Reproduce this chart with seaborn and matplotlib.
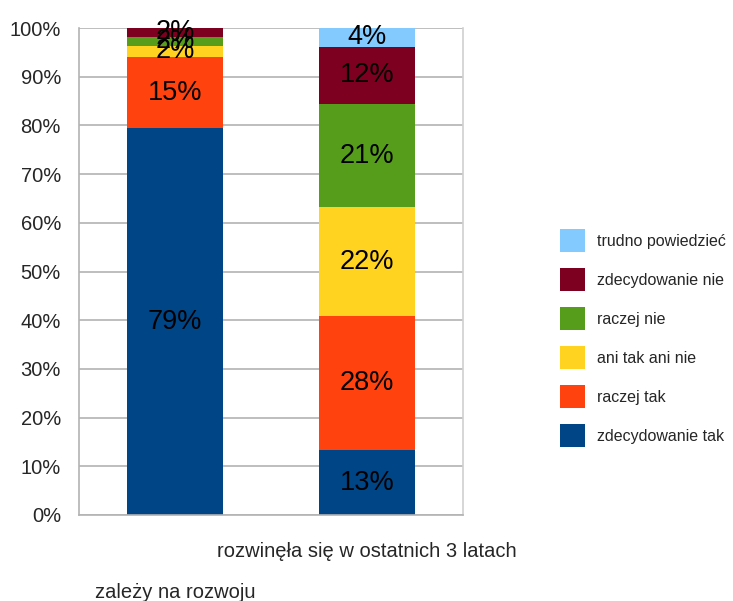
import matplotlib
matplotlib.use("Agg")
import matplotlib.pyplot as plt
import seaborn as sns
import pandas as pd
import numpy as np
from matplotlib.patches import Patch

categories = ["zależy na rozwoju", "rozwinęła się w ostatnich 3 latach"]
series_names = ["zdecydowanie tak", "raczej tak", "ani tak ani nie",
                "raczej nie", "zdecydowanie nie", "trudno powiedzieć"]
zdecydowanie_tak = [79.4, 13.3]
raczej_tak = [14.6, 27.6]
ani_tak_ani_nie = [2.4, 22.3]
raczej_nie = [1.8, 21.1]
zdecydowanie_nie = [1.8, 11.9]
trudno_powiedziec = [0.0, 3.8]
label_texts = [["79%", "15%", "2%", "2%", "2%", None],
               ["13%", "28%", "22%", "21%", "12%", "4%"]]
colors = ["#004586", "#ff420e", "#ffd320", "#579d1c", "#7e0021", "#83caff"]

series = [zdecydowanie_tak, raczej_tak, ani_tak_ani_nie, raczej_nie,
          zdecydowanie_nie, trudno_powiedziec]

sns.set_style("white")
plt.rcParams["font.family"] = ["Liberation Sans", "DejaVu Sans"]

fig = plt.figure(figsize=(7.33, 6.01), dpi=100)
ax = fig.add_axes([79 / 733, 1 - 515 / 601, (463 - 79) / 733, (515 - 28) / 601])

vals = np.array(series)  # shape (6, 2)
cum = np.cumsum(vals, axis=0)

# draw cumulative bars from tallest to shortest
for i in range(len(series) - 1, -1, -1):
    df = pd.DataFrame({"cat": categories, "val": cum[i]})
    sns.barplot(data=df, x="cat", y="val", color=colors[i], saturation=1,
                width=0.5, ax=ax, linewidth=0, zorder=2)

# labels
for j in range(len(categories)):
    for i in range(len(series)):
        t = label_texts[j][i]
        if t is None or vals[i, j] <= 0:
            continue
        bottom = cum[i, j] - vals[i, j]
        ax.text(j, bottom + vals[i, j] / 2, t, ha="center", va="center",
                fontsize=19.5, color="black", zorder=5)

ax.set_xlim(-0.5, 1.5)
ax.set_ylim(0, 100)
ax.set_yticks(np.arange(0, 101, 10))
ax.set_yticklabels([f"{v}%" for v in range(0, 101, 10)], fontsize=14.5)
ax.yaxis.grid(True, color="#b3b3b3", linewidth=1.2, zorder=0)
ax.set_axisbelow(True)
ax.tick_params(axis="y", length=10, color="#b3b3b3", width=1.2, pad=3)

# x ticks at category boundaries
ax.set_xticks([-0.5, 0.5, 1.5])
ax.set_xticklabels([])
ax.tick_params(axis="x", length=10, color="#b3b3b3", width=1.2)
ax.set_xlabel("")
ax.set_ylabel("")

# staggered category labels
ax.text(1, -7.4, categories[1], ha="center", va="center", fontsize=14.5,
        transform=ax.transData, clip_on=False)
ax.text(0, -15.9, categories[0], ha="center", va="center", fontsize=14.5,
        transform=ax.transData, clip_on=False)

for side in ["left", "bottom"]:
    ax.spines[side].set_color("#b3b3b3")
    ax.spines[side].set_linewidth(1.2)
ax.spines["right"].set_color("#d0d0d0")
ax.spines["right"].set_linewidth(1.2)
ax.spines["top"].set_visible(False)

handles = [Patch(facecolor=colors[i], edgecolor="none") for i in range(len(series) - 1, -1, -1)]
labels = [series_names[i] for i in range(len(series) - 1, -1, -1)]
fig.legend(handles, labels, loc="upper left", bbox_to_anchor=(560 / 733, 1 - 229 / 601),
           frameon=False, fontsize=11.5, handlelength=1.57, handleheight=1.84,
           labelspacing=1.0, handletextpad=0.75, borderaxespad=0, borderpad=0)

fig.savefig("out.png", dpi=100)
